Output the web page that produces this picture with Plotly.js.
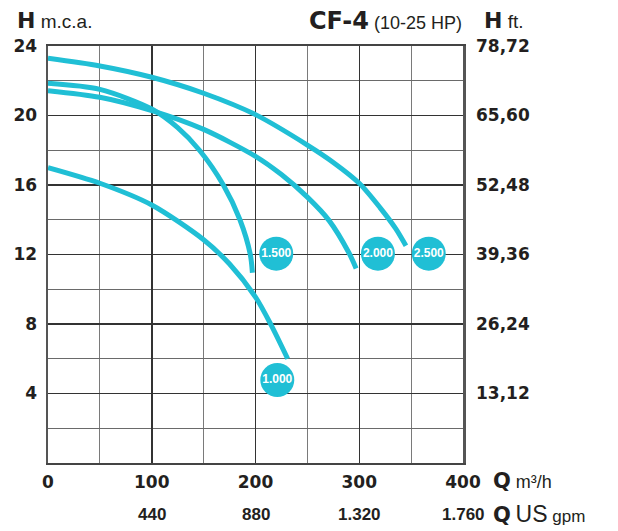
<!DOCTYPE html>
<html>
<head>
<meta charset="utf-8">
<script src="https://cdn.plot.ly/plotly-3.0.1.min.js"></script>
<style>html,body{margin:0;padding:0;background:#fff;}</style>
</head>
<body>
<div id="chart" style="width:618px;height:531px;"></div>
<script>
// ---- data (Q in m3/h, H in m.c.a.) ----
const q1000 = [0, 50, 100, 150, 175, 200, 215, 231];
const h1000 = [17.0, 16.1, 14.85, 12.85, 11.45, 9.55, 7.95, 6.0];

const q1500 = [0, 50, 100, 125, 146, 169, 185, 195, 197];
const h1500 = [21.85, 21.5, 20.37, 19.3, 18.0, 16.0, 14.0, 12.0, 10.95];

const q2000 = [0, 50, 100, 150, 200, 225, 250, 271, 290, 297];
const h2000 = [21.43, 21.05, 20.28, 19.2, 17.65, 16.6, 15.3, 13.95, 12.1, 11.2];

const q2500 = [0, 50, 100, 150, 200, 250, 275, 300, 320, 335, 345];
const h2500 = [23.29, 22.85, 22.2, 21.28, 20.05, 18.3, 17.3, 16.1, 14.7, 13.5, 12.5];

const curveLabels = ['1.000', '1.500', '2.000', '2.500'];
const labelQ = [221, 220, 318, 367];
const labelH = [4.78, 12.05, 12.05, 12.05];

const xTickVals = [0, 100, 200, 300, 400];
const xTickText = ['0', '100', '200', '300', '400'];
const gpmVals = [100, 200, 300, 400];
const gpmText = ['440', '880', '1.320', '1.760'];
const yTickVals = [4, 8, 12, 16, 20, 24];
const yTickText = ['4', '8', '12', '16', '20', '24'];
const ftTickText = ['13,12', '26,24', '39,36', '52,48', '65,60', '78,72'];

// ---- styling ----
const CYAN = '#20bfd5';
const INK = '#231f20';
const plotL = 48, plotR = 463, plotT = 46, plotB = 463;
const plotW = plotR - plotL, plotH = plotB - plotT;
const px = x => (x - plotL) / plotW;
const py = y => (plotB - y) / plotH;

function curve(q, h) {
  return {
    x: q, y: h, type: 'scatter', mode: 'lines',
    line: {color: CYAN, width: 5, shape: 'spline', smoothing: 0.8},
    hoverinfo: 'skip', showlegend: false
  };
}

const traces = [
  curve(q1000, h1000),
  curve(q1500, h1500),
  curve(q2000, h2000),
  curve(q2500, h2500),
  {
    x: labelQ, y: labelH, text: curveLabels, type: 'scatter', mode: 'markers+text',
    marker: {color: CYAN, size: 34, line: {width: 0}},
    textposition: 'middle center',
    textfont: {family: 'Liberation Sans, Arial, sans-serif', size: 12, color: '#ffffff', weight: 'bold'},
    hoverinfo: 'skip', showlegend: false, cliponaxis: false
  },
  {
    x: [0], y: [0], yaxis: 'y2', type: 'scatter', mode: 'markers',
    marker: {opacity: 0}, hoverinfo: 'skip', showlegend: false
  }
];

const tickFont = {family: 'DejaVu Sans, sans-serif', size: 17, color: INK, weight: 'bold'};
const BOLD = 'font-family:DejaVu Sans;font-weight:bold;';

const annotations = [
  {
    xref: 'paper', yref: 'paper', x: px(15), y: py(21), xanchor: 'left', yanchor: 'middle',
    text: '<span style="' + BOLD + 'font-size:22px">H</span> m.c.a.',
    showarrow: false, font: {family: 'Liberation Sans, Arial, sans-serif', size: 19, color: INK}
  },
  {
    xref: 'paper', yref: 'paper', x: px(464), y: py(21), xanchor: 'right', yanchor: 'middle',
    text: '<span style="' + BOLD + 'font-size:24px">CF-4</span> (10-25 HP)',
    showarrow: false, font: {family: 'Liberation Sans, Arial, sans-serif', size: 18, color: INK}
  },
  {
    xref: 'paper', yref: 'paper', x: px(482), y: py(21), xanchor: 'left', yanchor: 'middle',
    text: '<span style="' + BOLD + 'font-size:22px">H</span> ft.',
    showarrow: false, font: {family: 'Liberation Sans, Arial, sans-serif', size: 19, color: INK}
  },
  {
    xref: 'paper', yref: 'paper', x: px(491), y: py(481), xanchor: 'left', yanchor: 'middle',
    text: '<span style="' + BOLD + 'font-size:21px">Q</span> m³/h',
    showarrow: false, font: {family: 'Liberation Sans, Arial, sans-serif', size: 18, color: INK}
  },
  {
    xref: 'paper', yref: 'paper', x: px(491), y: py(514), xanchor: 'left', yanchor: 'middle',
    text: '<span style="' + BOLD + 'font-size:21px">Q</span> <span style="font-size:23px">US</span> gpm',
    showarrow: false, font: {family: 'Liberation Sans, Arial, sans-serif', size: 17, color: INK}
  }
];
gpmVals.forEach((v, i) => {
  annotations.push({
    xref: 'x', yref: 'paper', x: v, y: py(514), xanchor: 'center', yanchor: 'middle',
    text: gpmText[i], showarrow: false,
    font: {family: 'Liberation Sans, Arial, sans-serif', size: 17, color: INK, weight: 'bold'}
  });
});

const layout = {
  width: 618, height: 531,
  margin: {l: plotL, r: 618 - plotR, t: plotT, b: 531 - plotB, pad: 0},
  paper_bgcolor: '#ffffff', plot_bgcolor: '#ffffff',
  showlegend: false,
  font: {family: 'DejaVu Sans, sans-serif', color: INK},
  xaxis: {
    range: [0, 400], tickmode: 'array', tickvals: xTickVals, ticktext: xTickText,
    showgrid: true, gridcolor: '#333333', gridwidth: 1.5,
    minor: {tickmode: 'linear', tick0: 0, dtick: 50, showgrid: true, gridcolor: '#7a7a7a', gridwidth: 1, ticks: ''},
    showline: true, mirror: true, linecolor: '#444444', linewidth: 2,
    ticks: '', ticklabelstandoff: 3, tickfont: tickFont, zeroline: false, fixedrange: true
  },
  yaxis: {
    range: [0, 24], tickmode: 'array', tickvals: yTickVals, ticktext: yTickText,
    showgrid: true, gridcolor: '#333333', gridwidth: 1.5,
    minor: {tickmode: 'linear', tick0: 0, dtick: 2, showgrid: true, gridcolor: '#6a6a6a', gridwidth: 1, ticks: ''},
    showline: true, mirror: true, linecolor: '#555555', linewidth: 2.5,
    ticks: '', ticklabelstandoff: 5, tickfont: tickFont, zeroline: false, fixedrange: true
  },
  yaxis2: {
    range: [0, 24], overlaying: 'y', side: 'right', tickmode: 'array',
    tickvals: yTickVals, ticktext: ftTickText, showgrid: false, showline: false,
    ticks: '', ticklabelstandoff: 12, tickfont: tickFont, zeroline: false, fixedrange: true
  },
  annotations: annotations
};

Plotly.newPlot('chart', traces, layout, {staticPlot: true, displayModeBar: false});
</script>
</body>
</html>
